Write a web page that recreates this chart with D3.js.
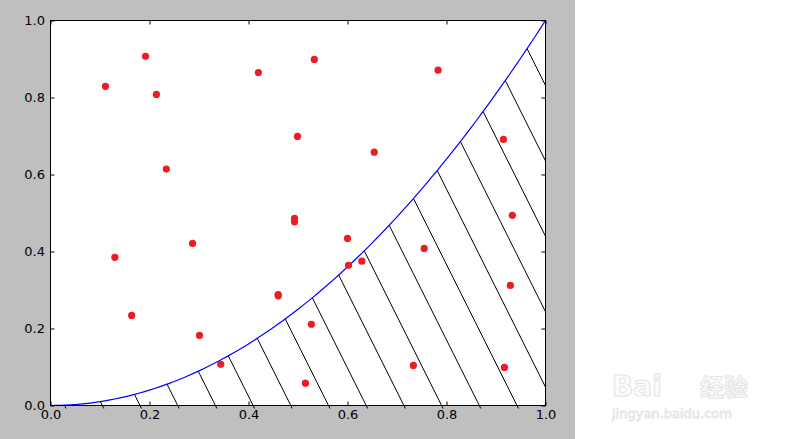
<!DOCTYPE html>
<html>
<head>
<meta charset="utf-8">
<script src="https://cdn.jsdelivr.net/npm/d3@7"></script>
<style>
  body { margin: 0; background: #fff; }
  svg { display: block; }
  .tick text { font-family: "DejaVu Sans", sans-serif; font-size: 13px; fill: #000; }
  .tick line { stroke: #000; }
</style>
</head>
<body>
<div id="chart"></div>
<script>
// sample points (x, y)
var xVals = [0.111, 0.192, 0.214, 0.234, 0.130, 0.164, 0.287, 0.301, 0.344, 0.420,
             0.533, 0.499, 0.493, 0.493, 0.460, 0.460, 0.527, 0.515, 0.600, 0.602,
             0.629, 0.654, 0.783, 0.755, 0.733, 0.915, 0.933, 0.929, 0.917];
var yVals = [0.829, 0.907, 0.808, 0.614, 0.385, 0.234, 0.421, 0.182, 0.107, 0.865,
             0.899, 0.699, 0.486, 0.477, 0.288, 0.285, 0.211, 0.058, 0.434, 0.364,
             0.375, 0.658, 0.871, 0.408, 0.104, 0.691, 0.494, 0.312, 0.099];

// the plotted function is y = x^2, sampled on these x values
var curveX = d3.range(0, 1.0001, 0.01);

var xTicks = [0, 0.2, 0.4, 0.6, 0.8, 1.0];
var yTicks = [0, 0.2, 0.4, 0.6, 0.8, 1.0];

var width = 797, height = 439;

var x = d3.scaleLinear().domain([0, 1]).range([50.5, 545.5]);
var y = d3.scaleLinear().domain([0, 1]).range([405.5, 20.5]);

var svg = d3.select("#chart").append("svg")
    .attr("width", width)
    .attr("height", height);

// grey figure background
svg.append("rect")
    .attr("x", 0).attr("y", 0)
    .attr("width", 575).attr("height", height)
    .attr("fill", "#bfbfbf");

// white axes background
svg.append("rect")
    .attr("x", x(0)).attr("y", y(1))
    .attr("width", x(1) - x(0)).attr("height", y(0) - y(1))
    .attr("fill", "#fff");

var curveData = curveX.map(function(v) { return {x: v, y: v * v}; });

// hatched region under the curve ("\\" hatch)
var area = d3.area()
    .x(function(d) { return x(d.x); })
    .y0(y(0) + 3)
    .y1(function(d) { return y(d.y); });

svg.append("defs").append("clipPath")
    .attr("id", "under")
    .append("path")
    .datum(curveData)
    .attr("d", area);

var hw = 37.7;        // horizontal spacing of hatch lines
var hatchStart = 140 - 3 * hw;
var hatch = svg.append("g").attr("clip-path", "url(#under)");
hatch.selectAll("line")
    .data(d3.range(0, 22))
    .enter().append("line")
    .attr("x1", function(k) { return hatchStart + k * hw - 250; })
    .attr("y1", y(0) - 500)
    .attr("x2", function(k) { return hatchStart + k * hw + 10; })
    .attr("y2", y(0) + 20)
    .attr("stroke", "#000")
    .attr("stroke-width", 1);

// axes ticks
var fmt = d3.format(".1f");

svg.append("g")
    .attr("transform", "translate(0," + y(0) + ")")
    .call(d3.axisBottom(x).tickValues(xTicks).tickFormat(fmt)
        .tickSizeInner(-4).tickSizeOuter(0).tickPadding(4.5))
    .call(function(g) { g.select(".domain").remove(); });

svg.append("g")
    .attr("transform", "translate(0," + y(1) + ")")
    .call(d3.axisTop(x).tickValues(xTicks).tickFormat("")
        .tickSizeInner(-4).tickSizeOuter(0))
    .call(function(g) { g.select(".domain").remove(); });

svg.append("g")
    .attr("transform", "translate(" + x(0) + ",0)")
    .call(d3.axisLeft(y).tickValues(yTicks).tickFormat(fmt)
        .tickSizeInner(-4).tickSizeOuter(0).tickPadding(5.5))
    .call(function(g) { g.select(".domain").remove(); });

svg.append("g")
    .attr("transform", "translate(" + x(1) + ",0)")
    .call(d3.axisRight(y).tickValues(yTicks).tickFormat("")
        .tickSizeInner(-4).tickSizeOuter(0))
    .call(function(g) { g.select(".domain").remove(); });

// blue curve
var line = d3.line()
    .x(function(d) { return x(d.x); })
    .y(function(d) { return y(d.y); });

svg.append("path")
    .datum(curveData)
    .attr("d", line)
    .attr("fill", "none")
    .attr("stroke", "#0000ff")
    .attr("stroke-width", 1.2);

// red points
svg.selectAll(".pt")
    .data(d3.range(xVals.length))
    .enter().append("circle")
    .attr("class", "pt")
    .attr("cx", function(i) { return x(xVals[i]); })
    .attr("cy", function(i) { return y(yVals[i]); })
    .attr("r", 3.6)
    .attr("fill", "#ed1c24");

// axes frame
svg.append("rect")
    .attr("x", x(0)).attr("y", y(1))
    .attr("width", x(1) - x(0)).attr("height", y(0) - y(1))
    .attr("fill", "none")
    .attr("stroke", "#000")
    .attr("stroke-width", 1);

// faint watermark
svg.append("text")
    .attr("x", 612).attr("y", 396)
    .attr("style", "font-family: 'DejaVu Sans', sans-serif; font-weight: bold;")
    .style("font-size", "28px")
    .style("fill", "#fbfbfb")
    .style("stroke", "#e4e4e4")
    .style("stroke-width", 1)
    .text("Bai");

svg.append("text")
    .attr("x", 700).attr("y", 396)
    .attr("style", "font-family: 'Noto Sans CJK SC', sans-serif; font-weight: bold;")
    .style("font-size", "24px")
    .style("fill", "#fbfbfb")
    .style("stroke", "#e4e4e4")
    .style("stroke-width", 1)
    .text("经验");

svg.append("text")
    .attr("x", 612).attr("y", 418)
    .attr("style", "font-family: 'DejaVu Sans', sans-serif;")
    .style("font-size", "13px")
    .style("fill", "#fbfbfb")
    .style("stroke", "#e4e4e4")
    .style("stroke-width", 0.8)
    .text("jingyan.baidu.com");
</script>
</body>
</html>
